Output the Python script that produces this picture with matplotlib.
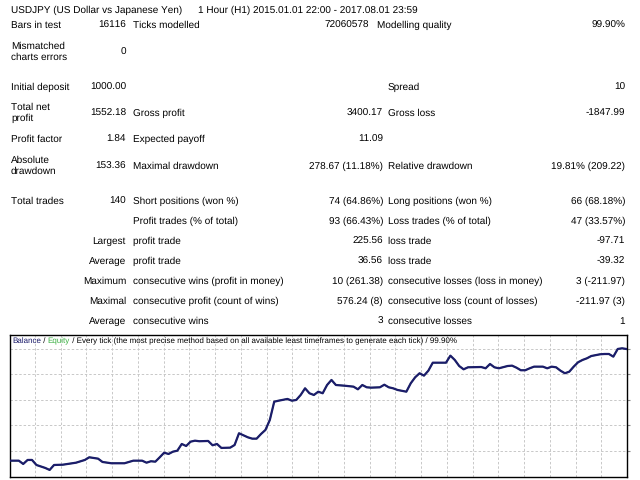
import matplotlib
matplotlib.use("Agg")
import matplotlib.pyplot as plt
import numpy as np

plt.rcParams['font.family'] = ['Liberation Sans', 'DejaVu Sans']
plt.rcParams['text.hinting'] = 'no_hinting'
plt.rcParams['text.hinting_factor'] = 1

# ---------------- data ----------------
title_left = "USDJPY (US Dollar vs Japanese Yen)"
title_right = "1 Hour (H1) 2015.01.01 22:00 - 2017.08.01 23:59"

# rows of the report: (label1, value1, label2, value2, label3, value3)
row_bars = ["Bars in test", "16116", "Ticks modelled", "72060578", "Modelling quality", "99.90%"]
row_mismatch = ["Mismatched\ncharts errors", "0"]
row_deposit = ["Initial deposit", "1000.00", "", "", "Spread", "10"]
row_net = ["Total net\nprofit", "1552.18", "Gross profit", "3400.17", "Gross loss", "-1847.99"]
row_pf = ["Profit factor", "1.84", "Expected payoff", "11.09", "", ""]
row_dd = ["Absolute\ndrawdown", "153.36", "Maximal drawdown", "278.67 (11.18%)",
          "Relative drawdown", "19.81% (209.22)"]
row_trades = ["Total trades", "140", "Short positions (won %)", "74 (64.86%)",
              "Long positions (won %)", "66 (68.18%)"]
row_profit = ["", "", "Profit trades (% of total)", "93 (66.43%)",
              "Loss trades (% of total)", "47 (33.57%)"]
lower_prefix = ["Largest", "Average", "Maximum", "Maximal", "Average"]
lower_rows = [
    ["profit trade", "225.56", "loss trade", "-97.71"],
    ["profit trade", "36.56", "loss trade", "-39.32"],
    ["consecutive wins (profit in money)", "10 (261.38)",
     "consecutive losses (loss in money)", "3 (-211.97)"],
    ["consecutive profit (count of wins)", "576.24 (8)",
     "consecutive loss (count of losses)", "-211.97 (3)"],
    ["consecutive wins", "3", "consecutive losses", "1"],
]

legend_parts = ["Balance", " / ", "Equity",
                " / Every tick (the most precise method based on all available least timeframes to generate each tick) / 99.90%"]

trades = [0, 2, 3, 4, 5, 6, 8, 9, 10, 12, 15, 17, 18, 20, 21, 23, 26, 28, 30, 31,
          32, 33, 34, 35, 36, 37, 38, 39, 40, 41, 42, 43, 45, 46, 47, 48, 50, 51, 52, 54,
          55, 56, 57, 58, 59, 60, 61, 63, 64, 65, 66, 67, 68, 69, 70, 71, 72, 73, 74, 76,
          78, 79, 80, 81, 82, 84, 85, 86, 87, 88, 90, 91, 92, 93, 94, 95, 96, 98, 99, 100,
          101, 102, 103, 104, 107, 108, 109, 110, 111, 113, 114, 115, 116, 117, 118, 119, 121, 122, 123, 124,
          125, 126, 127, 128, 129, 130, 131, 132, 134, 135, 136, 137, 138, 139, 140]
balance = [1000, 1000, 954, 1010, 1010, 940, 899, 871, 940, 944, 972, 1010, 1047, 1028, 982, 964, 964, 1000, 1000, 972,
           992, 986, 1047, 1111, 1093, 1125, 1139, 1232, 1204, 1264, 1278, 1270, 1274, 1214, 1232, 1177, 1181, 1218, 1381, 1325,
           1306, 1306, 1371, 1427, 1566, 1820, 1834, 1858, 1834, 1844, 1913, 2006, 1937, 1913, 1959, 1937, 2052, 2122, 2052, 2042,
           2029, 1992, 2052, 2020, 2015, 2020, 2056, 2020, 2006, 1983, 1959, 2076, 2159, 2215, 2182, 2251, 2362, 2362, 2362, 2460,
           2400, 2316, 2270, 2298, 2302, 2284, 2344, 2298, 2284, 2316, 2321, 2293, 2257, 2257, 2284, 2307, 2307, 2284, 2307, 2298,
           2251, 2215, 2237, 2307, 2368, 2400, 2423, 2455, 2479, 2483, 2483, 2446, 2553, 2562, 2552.18]
equity = list(balance)

# ---------------- figure ----------------
W, H = 640, 480
fig = plt.figure(figsize=(6.4, 4.8), dpi=100)
fig.patch.set_facecolor('white')
FS = 7.5


def t(x, y, s, ha='left', **kw):
    fig.text(x / W, 1 - y / H, s, ha=ha, va='center', fontsize=FS, color='black',
             linespacing=1.2, **kw)


# title
t(11, 10, title_left)
t(198, 10, title_right)

# bars row (different column layout)
t(11, 25, row_bars[0]); t(126, 25, row_bars[1], ha='right')
t(133, 25, row_bars[2]); t(369, 25, row_bars[3], ha='right')
t(377, 25, row_bars[4]); t(625, 25, row_bars[5], ha='right')

t(11, 52, row_mismatch[0]); t(126, 52, row_mismatch[1], ha='right')

for row, y in [(row_deposit, 87), (row_net, 113), (row_pf, 139), (row_dd, 166),
               (row_trades, 201), (row_profit, 221)]:
    t(11, y, row[0]); t(126, y, row[1], ha='right')
    t(133, y, row[2]); t(383, y, row[3], ha='right')
    t(388, y, row[4]); t(625, y, row[5], ha='right')

for i, (pre, row) in enumerate(zip(lower_prefix, lower_rows)):
    y = 241 + 20.2 * i
    t(126, y, pre, ha='right')
    t(133, y, row[0]); t(383, y, row[1], ha='right')
    t(388, y, row[2]); t(625, y, row[3], ha='right')

# ---------------- chart ----------------
left, right, top, bottom = 10, 627, 335, 477
ax = fig.add_axes([left / W, 1 - bottom / H, (right - left) / W, (bottom - top) / H])
ax.set_xlim(0, 140)
ymin, ymax = 773, 2747
ax.set_ylim(ymin, ymax)
xg = np.arange(5.67, 140.5, 5.845)
yg = 1135 + 354.5 * np.arange(5)
ax.set_xticks(xg)
ax.set_yticks(yg)
ax.grid(True, color='#c8c8c8', linestyle=(0, (2.5, 2)), linewidth=0.7)
ax.tick_params(axis='x', length=0, labelbottom=False)
ax.tick_params(axis='y', left=False, right=True, labelleft=False, direction='out',
               length=2.5, width=0.8, colors='#888888')
for s in ax.spines.values():
    s.set_color('black')
    s.set_linewidth(1.0)

ax.plot(trades, equity, color='#3cb043', linewidth=1.0, zorder=2)
ax.plot(trades, balance, color='#1c1c6b', linewidth=1.6, zorder=3,
        solid_joinstyle='round')

# legend text
colors = ['#1c1c6b', 'black', '#3cb043', 'black']
x0 = 12 / W
fig.canvas.draw()
renderer = fig.canvas.get_renderer()
for part, c in zip(legend_parts, colors):
    txt = fig.text(x0, 1 - 341 / H, part, fontsize=5.5, color=c, ha='left', va='center')
    bb = txt.get_window_extent(renderer=renderer)
    x0 += bb.width / W

fig.savefig('out.png', dpi=100, facecolor='white')
